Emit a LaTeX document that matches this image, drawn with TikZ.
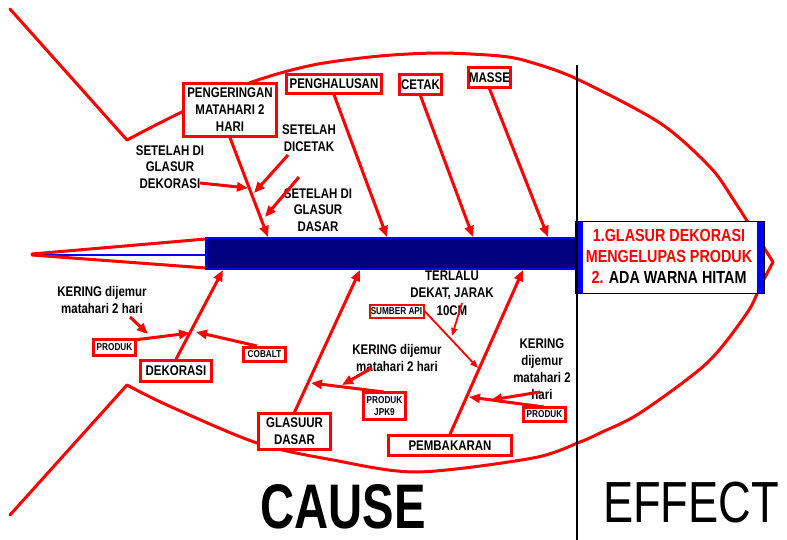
\documentclass[tikz,border=0pt]{standalone}
\usepackage{fontspec}
\newfontfamily\nb{Liberation Sans}[FakeStretch=0.82]
\newfontfamily\causef{Liberation Sans}[FakeStretch=0.75]
\newfontfamily\effectf{Liberation Sans}[FakeStretch=0.78]
\usetikzlibrary{arrows.meta}
\definecolor{navy}{RGB}{0,0,128}
\definecolor{fred}{RGB}{255,0,0}
\definecolor{fblue}{RGB}{0,0,255}
\tikzset{
 rbox/.style={draw=fred, line width=2.5pt, fill=white, inner sep=0pt, align=center, font=\nb\bfseries\fontsize{14}{17}\selectfont},
 sbox/.style={rbox, font=\nb\bfseries\fontsize{10}{12}\selectfont},
 lbl/.style={align=center, inner sep=0pt, font=\nb\bfseries\fontsize{14}{16.5}\selectfont},
 arr/.style={draw=fred, line width=3pt, -{Triangle[length=11pt,width=9pt]}},
 tarr/.style={draw=fred, line width=1.8pt, -{Triangle[length=8pt,width=6pt]}},
 body/.style={draw=fred, line width=3pt, line cap=round, line join=round},
}
\begin{document}
\begin{tikzpicture}[x=1pt,y=-1pt]
\useasboundingbox (0,0) rectangle (787,540);
% fish body
\draw[body] (10,9) -- plot[smooth, tension=0.5] coordinates {(127,140) (182,112) (252,82) (313,65) (380,56) (440,53) (500,56) (530,62) (577,79) (660,123) (710,167) (733,199) (773,262)};
\draw[body] plot[smooth, tension=0.5] coordinates {(773,262) (760,287) (747,313) (707,363) (640,413) (600,433) (580,442) (533,458) (417,472) (333,460) (257,443) (167,405) (127,385)} -- (10,515);
% tail of spine
\draw[fblue, line width=1.5pt] (32,255) -- (206,255);
\draw[fred, line width=3pt, line cap=round] (32,254) -- (206,239);
\draw[fred, line width=3pt, line cap=round] (32,255) -- (206,268);
% spine
\draw[fill=navy, draw=fblue, line width=2.5pt] (206,238) rectangle (577,269);
% divider
\draw[black, line width=2pt] (577,65) -- (577,540);
% effect box
\node[draw=black, line width=1pt, fill=white, minimum width=189pt, minimum height=71pt, inner sep=0pt] (effect) at (669.5,257.5) {};
\fill[fblue] (575.5,222.5) rectangle (583,292.5);
\fill[fblue] (757,222.5) rectangle (763.5,292.5);
\draw[black, line width=1pt] (575,222) rectangle (764,293);
\draw[black, line width=2pt] (577,222) -- (577,293);
\node[align=center, inner sep=0pt, font=\nb\bfseries\fontsize{17.5}{21}\selectfont] (efftext) at (669,256) {\textcolor{fred}{1.GLASUR DEKORASI}\\\textcolor{fred}{MENGELUPAS PRODUK}\\\textcolor{fred}{2.} ADA WARNA HITAM};
% spine end points
\coordinate (t1) at (268,237);
\coordinate (t2) at (387,237);
\coordinate (t3) at (473,237);
\coordinate (t4) at (548,237);
\coordinate (b1) at (223,270);
\coordinate (b2) at (360,270);
\coordinate (b3) at (523,270);
% top boxes
\node[rbox, minimum width=93pt, minimum height=53pt] (peng) at (230,110) {PENGERINGAN\\MATAHARI 2\\HARI};
\node[rbox, minimum width=95pt, minimum height=19pt] (halus) at (334,84) {PENGHALUSAN};
\node[rbox, minimum width=42pt, minimum height=20pt] (cetak) at (420.5,84.5) {CETAK};
\node[rbox, minimum width=42pt, minimum height=20pt] (masse) at (489.5,77.5) {MASSE};
% bottom boxes
\node[rbox, minimum width=71pt, minimum height=21pt] (dekor) at (176,371) {DEKORASI};
\node[sbox, minimum width=42pt, minimum height=16pt] (produkA) at (114.5,347.5) {PRODUK};
\node[sbox, minimum width=42pt, minimum height=14pt] (cobalt) at (264.5,354.5) {COBALT};
\node[rbox, minimum width=72pt, minimum height=36pt] (glasuur) at (294.5,431.5) {GLASUUR\\DASAR};
\node[sbox, minimum width=42pt, minimum height=27pt] (jpk) at (384.5,406) {PRODUK\\JPK9};
\node[rbox, minimum width=123pt, minimum height=20pt] (bakar) at (450,445.5) {PEMBAKARAN};
\node[sbox, minimum width=42pt, minimum height=14pt] (produkB) at (544.5,414.5) {PRODUK};
\node[sbox, line width=2pt, minimum width=54pt, minimum height=13pt] (sumber) at (396.5,311) {SUMBER API};
% free labels
\node[lbl] (l1) at (170,167) {SETELAH DI\\GLASUR\\DEKORASI};
\node[lbl] (l2) at (309,138) {SETELAH\\DICETAK};
\node[lbl] (l3) at (318,210) {SETELAH DI\\GLASUR\\DASAR};
\node[lbl] (l4) at (102,300) {KERING dijemur\\matahari 2 hari};
\node[lbl] (l5) at (397,358) {KERING dijemur\\matahari 2 hari};
\node[lbl, font=\nb\bfseries\fontsize{14}{17}\selectfont] (l6) at (542,369) {KERING\\dijemur\\matahari 2\\hari};
\node[lbl, font=\nb\bfseries\fontsize{14}{17.5}\selectfont] (l7) at (452,293) {TERLALU\\DEKAT, JARAK\\10CM};
% main arrows
\draw[arr] (peng.south) -- (t1);
\draw[arr] (halus.south) -- (t2);
\draw[arr] (cetak.south) -- (t3);
\draw[arr] (masse.south) -- (t4);
\draw[arr] (dekor.north) -- (b1);
\draw[arr] (glasuur.north) -- (b2);
\draw[arr] (bakar.north) -- (b3);
% sub arrows
\coordinate (s1a) at (200,183); \coordinate (s1b) at (248,188);
\coordinate (s2a) at (288,155); \coordinate (s2b) at (254,193);
\coordinate (s3a) at (299,177); \coordinate (s3b) at (265,217);
\draw[arr] (s1a) -- (s1b);
\draw[arr] (s2a) -- (s2b);
\draw[arr] (s3a) -- (s3b);
\coordinate (pA) at (134,340); \coordinate (pAe) at (190,333);
\draw[arr] (pA) -- (pAe);
\coordinate (k1a) at (130,317); \coordinate (k1b) at (148,334);
\draw[arr] (k1a) -- (k1b);
\coordinate (cA) at (257,346); \coordinate (cAe) at (196,332);
\draw[arr] (cA) -- (cAe);
\coordinate (jA) at (384,392); \coordinate (jAe) at (311,383);
\draw[arr] (jA) -- (jAe);
\coordinate (k2a) at (372,368); \coordinate (k2b) at (342,385);
\draw[arr] (k2a) -- (k2b);
\coordinate (pB) at (544,407); \coordinate (pBe) at (469,397);
\draw[arr] (pB) -- (pBe);
\coordinate (k3a) at (540,392); \coordinate (k3b) at (491,400);
\draw[arr] (k3a) -- (k3b);
\coordinate (sE) at (478,368);
\draw[tarr] (sumber.east) -- (sE);
\coordinate (tA) at (462,303); \coordinate (tB) at (452,336);
\draw[tarr] (tA) -- (tB);
% titles
\node[inner sep=0pt, font=\causef\bfseries\fontsize{63}{63}\selectfont] (cause) at (343,507) {CAUSE};
\node[inner sep=0pt, font=\effectf\fontsize{58}{58}\selectfont] (effecttitle) at (691,503) {EFFECT};
\end{tikzpicture}
\end{document}
